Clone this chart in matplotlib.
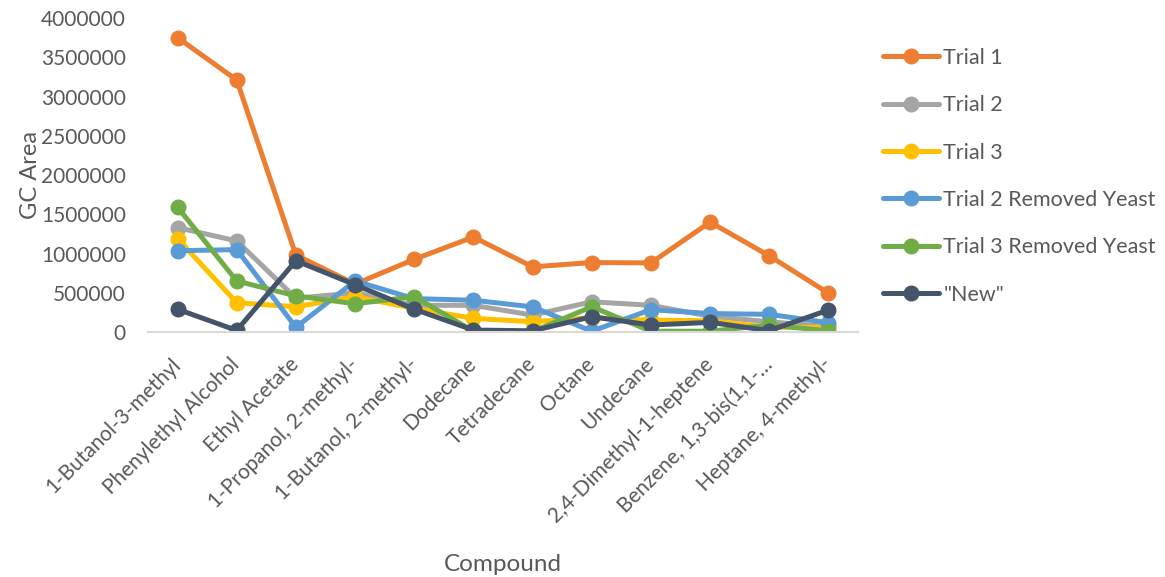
import matplotlib.pyplot as plt

plt.rcParams['font.family'] = ['Lato', 'DejaVu Sans']

compounds = ["1-Butanol-3-methyl", "Phenylethyl Alcohol", "Ethyl Acetate",
             "1-Propanol, 2-methyl-", "1-Butanol, 2-methyl-", "Dodecane",
             "Tetradecane", "Octane", "Undecane", "2,4-Dimethyl-1-heptene",
             "Benzene, 1,3-bis(1,1-…", "Heptane, 4-methyl-"]

trial1 = [3750000, 3210000, 980000, 610000, 926000, 1210000,
          830000, 885000, 880000, 1400000, 970000, 495000]
trial2 = [1330000, 1160000, 430000, 500000, 340000, 340000,
          215000, 385000, 340000, 200000, 130000, 70000]
trial3 = [1190000, 373000, 322000, 450000, 300000, 174000,
          131000, 180000, 150000, 144000, 60000, 60000]
trial2_removed = [1035000, 1050000, 60000, 650000, 425000, 405000,
                  320000, 10000, 285000, 235000, 225000, 118000]
trial3_removed = [1590000, 650000, 460000, 360000, 450000, 10000,
                  5000, 322000, 10000, 10000, 89000, 15000]
new = [290000, 20000, 908000, 602000, 290000, 25000,
       15000, 195000, 89000, 123000, 17000, 280000]

series = [
    ("Trial 1", trial1, "#ED7D31"),
    ("Trial 2", trial2, "#A5A5A5"),
    ("Trial 3", trial3, "#FFC000"),
    ("Trial 2 Removed Yeast", trial2_removed, "#5B9BD5"),
    ("Trial 3 Removed Yeast", trial3_removed, "#70AD47"),
    ('"New"', new, "#44546A"),
]

text_color = "#595959"

fig = plt.figure(figsize=(11.65, 5.77), dpi=100)
ax = fig.add_axes([0.127, 0.4246, 0.6095, 0.5442])

x = list(range(len(compounds)))
for label, values, color in series:
    ax.plot(x, values, color=color, lw=3.6, marker='o', markersize=10.5,
            label=label, solid_capstyle='round', solid_joinstyle='round')

ax.set_xlim(-0.5, len(compounds) - 0.5)
ax.set_ylim(0, 4000000)
ax.set_yticks(range(0, 4000001, 500000))
ax.set_yticklabels([str(v) for v in range(0, 4000001, 500000)])
ax.set_xticks(x)
ax.set_xticklabels(compounds, rotation=45, ha='right', va='center',
                   rotation_mode='anchor')

for side in ('top', 'right', 'left'):
    ax.spines[side].set_visible(False)
ax.spines['bottom'].set_color('#D9D9D9')
ax.spines['bottom'].set_linewidth(1.5)
ax.tick_params(axis='both', length=0, labelsize=15, colors=text_color)
ax.tick_params(axis='y', pad=16)
ax.tick_params(axis='x', pad=21)

ax.set_ylabel("GC Area", fontsize=17, color=text_color, labelpad=0)
fig.text(0.432, 0.010, "Compound", fontsize=17.5, color=text_color, ha='center')

ax.legend(loc='upper left', bbox_to_anchor=(0.758, 0.917), bbox_transform=fig.transFigure,
          frameon=False, fontsize=15.5, labelcolor=text_color, handlelength=2.6,
          handletextpad=0.2, labelspacing=1.27, borderpad=0, borderaxespad=0)

fig.savefig("out.png", dpi=100)
